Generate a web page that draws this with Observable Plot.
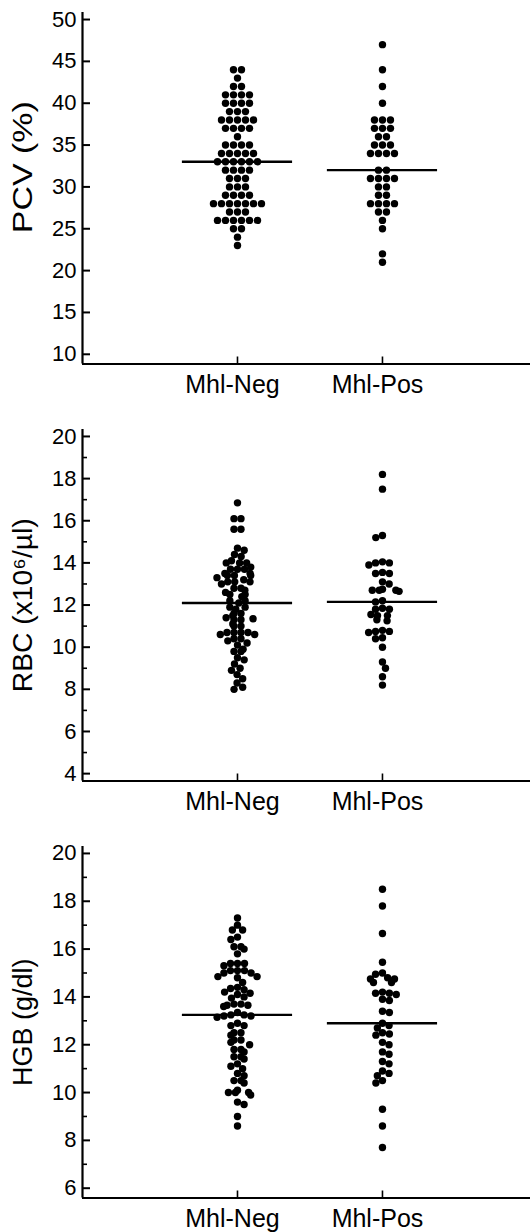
<!DOCTYPE html>
<html><head><meta charset="utf-8">
<script src="https://cdn.jsdelivr.net/npm/d3@7"></script>
<script src="https://cdn.jsdelivr.net/npm/@observablehq/plot@0.6"></script>
<style>
body{margin:0;background:#fff;}
#chart{width:531px;}
#chart svg{display:block;}
</style></head><body><div id="chart"></div>
<script>
const groups = ["Mhl-Neg", "Mhl-Pos"];

const pcvNeg = [44,44,43,42,42,41,41,41,41,40,40,40,40,39,39,39,38,38,38,38,38,37,37,37,37,36,35,35,35,35,34,34,34,34,34,33,33,33,33,33,33,32,32,32,32,31,31,31,30,30,30,29,29,29,29,28,28,28,28,28,28,28,27,27,27,26,26,26,26,26,26,25,25,24,23];
const pcvPos = [47,44,42,40,38,38,38,37,37,37,36,36,35,35,35,34,34,34,34,32,32,31,31,31,31,30,30,29,29,28,28,28,28,27,27,26,25,22,21];
const pcvLine = [33, 32];
const pcvTicks = [10,15,20,25,30,35,40,45,50];

const rbcNeg = [16.85,16.1,16.1,15.6,15.6,14.7,14.6,14.4,14.3,14.1,14.0,14.0,14.0,13.8,13.7,13.7,13.7,13.5,13.5,13.4,13.4,13.4,13.3,13.2,13.1,13.1,13.1,13.0,12.8,12.8,12.7,12.6,12.5,12.5,12.4,12.2,12.2,12.1,11.9,11.9,11.8,11.6,11.6,11.5,11.4,11.35,11.3,11.3,11.1,11.0,11.0,10.7,10.7,10.7,10.7,10.6,10.6,10.4,10.4,10.3,10.2,10.1,9.9,9.8,9.8,9.5,9.4,9.2,9.0,8.9,8.7,8.5,8.3,8.1,8.0];
const rbcPos = [18.2,17.5,15.3,15.2,14.05,14.0,14.0,13.9,13.55,13.5,13.5,13.1,13.0,12.75,12.7,12.7,12.7,12.65,12.2,12.15,11.85,11.8,11.8,11.55,11.5,11.5,11.3,11.25,10.8,10.75,10.75,10.7,10.45,10.4,10.0,9.3,9.0,8.6,8.2];
const rbcLine = [12.1, 12.15];
const rbcTicks = [4,6,8,10,12,14,16,18,20];
const rbcMinor = [5,7,9,11,13,15,17,19];

const hgbNeg = [17.3,17.0,16.8,16.8,16.5,16.4,16.1,16.1,16.0,15.8,15.4,15.4,15.4,15.3,15.1,15.1,15.1,15.0,15.0,14.85,14.85,14.8,14.6,14.4,14.35,14.3,14.2,14.15,14.1,14.0,13.95,13.7,13.7,13.65,13.65,13.6,13.35,13.25,13.25,13.2,13.2,13.15,12.9,12.8,12.8,12.5,12.4,12.5,12.2,12.1,12.2,12.0,11.8,11.7,11.8,11.5,11.4,11.5,11.1,11.0,11.2,10.8,10.7,10.5,10.4,10.5,10.1,10.0,10.0,9.9,10.0,9.6,9.5,9.0,8.6];
const hgbPos = [18.5,17.8,16.65,15.45,15.0,14.95,14.8,14.75,14.75,14.6,14.6,14.2,14.15,14.15,14.1,13.9,13.85,13.4,13.35,12.9,12.8,12.7,12.5,12.45,12.4,12.1,12.0,11.7,11.6,11.3,11.2,10.9,10.8,10.7,10.5,10.4,9.3,8.6,7.7];
const hgbLine = [13.25, 12.9];
const hgbTicks = [6,8,10,12,14,16,18,20];
const hgbMinor = [7,9,11,13,15,17,19];

const xDomain = [-0.069, 3.021];

// beeswarm layout (pixel offsets) computed from the values
function swarm(values, pxPerY, D) {
  const sorted = values.slice().sort((a, b) => b - a);
  const placed = [];
  for (const v of sorted) {
    const yp = v * pxPerY;
    const ints = [];
    for (const q of placed) {
      const dy = Math.abs(q.yp - yp);
      if (dy < D) { const w = Math.sqrt(D * D - dy * dy); ints.push([q.xp - w, q.xp + w]); }
    }
    const cands = [0];
    for (const [a, b] of ints) cands.push(a, b);
    const sgn = placed.length % 2 ? 1 : -1;
    cands.sort((a, b) => Math.abs(a) - Math.abs(b) || sgn * (a - b));
    let xp = 0;
    for (const c of cands) {
      if (ints.every(([a, b]) => c <= a + 1e-6 || c >= b - 1e-6)) { xp = c; break; }
    }
    placed.push({v, yp, xp});
  }
  for (const g of d3.group(placed, d => d.v).values()) {
    if (g.length > 1) { const m = d3.mean(g, d => d.xp); g.forEach(d => d.xp -= m); }
  }
  return placed;
}

const panels = [
  {label: "PCV (%)", neg: pcvNeg, pos: pcvPos, line: pcvLine, major: pcvTicks, minor: [], domain: [8.84, 50.84], height: 417, labelDy: -21, labelLen: 132, D: 8},
  {label: "RBC (x10⁶/µl)", neg: rbcNeg, pos: rbcPos, line: rbcLine, major: rbcTicks, minor: rbcMinor, domain: [3.65, 20.33], height: 417, labelDy: 0, labelLen: 174, D: 7},
  {label: "HGB (g/dl)", neg: hgbNeg, pos: hgbPos, line: hgbLine, major: hgbTicks, minor: hgbMinor, domain: [5.59, 20.29], height: 398, labelDy: 0, labelLen: 0, D: 7}
];

const W = 531, ml = 82, mr = 1, mt = 12;
for (const p of panels) {
  const mb = p.height - 363.5;
  const fh = p.height - mt - mb, fw = W - ml - mr;
  const pxPerY = fh / (p.domain[1] - p.domain[0]);
  const pxPerX = fw / (xDomain[1] - xDomain[0]);
  const dots = [];
  [p.neg, p.pos].forEach((vals, k) => {
    for (const d of swarm(vals, pxPerY, p.D)) dots.push({v: d.v, x: k + 1 + d.xp / pxPerX});
  });
  const lines = p.line.map((v, k) => ({v, i: k + 1}));
  const chart = Plot.plot({
    width: W, height: p.height, marginTop: mt, marginBottom: mb, marginLeft: ml, marginRight: mr,
    style: {fontFamily: "'Liberation Sans', Arial, sans-serif", color: "#000", background: "#fff"},
    x: {type: "linear", domain: xDomain},
    y: {type: "linear", domain: p.domain},
    marks: [
      Plot.ruleX([xDomain[0]], {stroke: "#000", strokeWidth: 2.2}),
      Plot.ruleY([p.domain[0]], {stroke: "#000", strokeWidth: 2.2}),
      Plot.ruleY(p.major, {stroke: "#000", insetRight: fw - 8, strokeWidth: 2}),
      Plot.ruleY(p.minor, {stroke: "#000", insetRight: fw - 5, strokeWidth: 1.6}),
      Plot.ruleX([1, 2], {stroke: "#000", insetTop: fh - 7, strokeWidth: 1.6}),
      Plot.axisY({ticks: p.major, tickSize: 0, tickPadding: 6, fontSize: 22, label: null}),
      Plot.axisX({ticks: [1, 2], tickFormat: i => groups[i - 1], tickSize: 0, tickPadding: 11.5, fontSize: 25, label: null, dx: -5}),
      Plot.dot(dots, {x: "x", y: "v", r: 3.7, fill: "#000"}),
      Plot.ruleY(lines, {y: "v", x1: d => d.i - 0.38, x2: d => d.i + 0.38, stroke: "#000", strokeWidth: 2.4}),
      Plot.text([p.label], {text: d => d, frameAnchor: "left", textAnchor: "middle", lineAnchor: "middle", dx: -59, dy: p.labelDy, rotate: -90, fontSize: 27, fill: "#000"})
    ]
  });
  if (p.labelLen) {
    d3.select(chart).selectAll("text").filter(function () { return this.textContent === p.label; })
      .attr("textLength", p.labelLen).attr("lengthAdjust", "spacingAndGlyphs");
  }
  document.getElementById("chart").appendChild(chart);
}
</script>
</body></html>
